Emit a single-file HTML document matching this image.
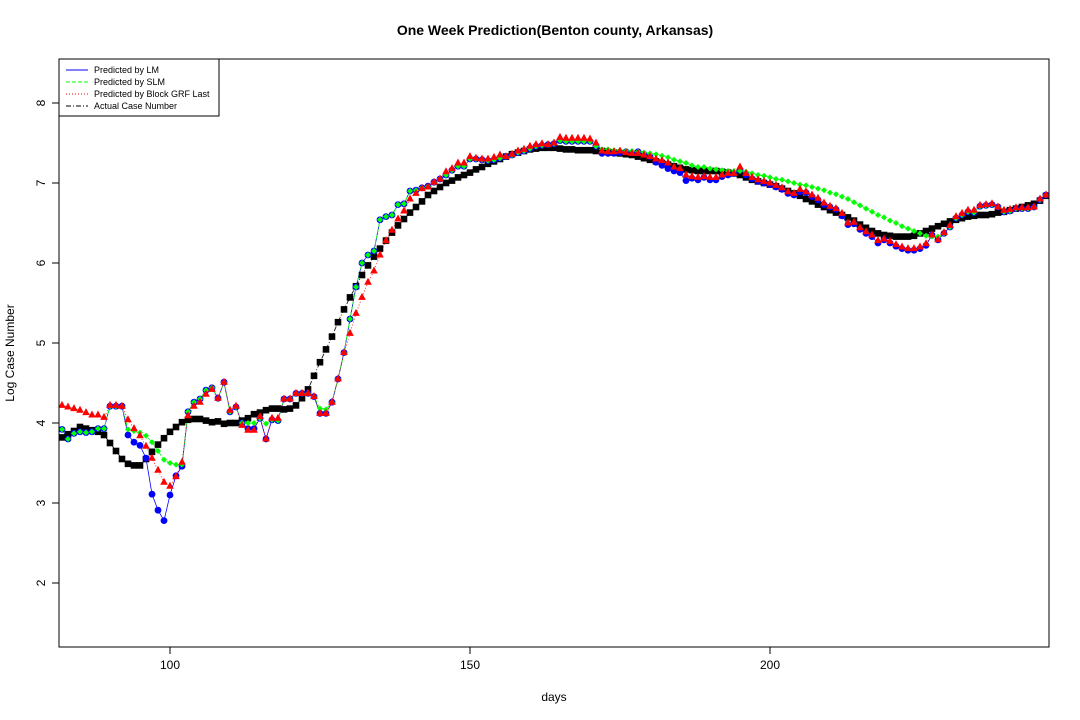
<!DOCTYPE html>
<html><head><meta charset="utf-8"><style>
body{margin:0;background:#fff;}
svg{display:block;font-family:"Liberation Sans",sans-serif;}
</style></head><body>
<svg id="chart" width="1080" height="720" xmlns="http://www.w3.org/2000/svg">
<text x="555" y="35" text-anchor="middle" font-size="14" font-weight="bold">One Week Prediction(Benton county, Arkansas)</text>
<text x="554" y="701" text-anchor="middle" font-size="12">days</text>
<text transform="translate(14,353) rotate(-90)" text-anchor="middle" font-size="12">Log Case Number</text>
<g id="marks"></g>
<rect x="59" y="59" width="990" height="588" fill="none" stroke="#000" stroke-width="1"/>
<g>
<rect x="59" y="59" width="160" height="57" fill="#fff" stroke="#000" stroke-width="1"/>
<g><line x1="66" y1="70" x2="88" y2="70" stroke="#00f"/><text x="94" y="73" font-size="9">Predicted by LM</text></g>
<g><line x1="66" y1="82" x2="88" y2="82" stroke="#0f0" stroke-dasharray="4,2"/><text x="94" y="85" font-size="9">Predicted by SLM</text></g>
<g><line x1="66" y1="94" x2="88" y2="94" stroke="#f00" stroke-dasharray="1,2"/><text x="94" y="97" font-size="9">Predicted by Block GRF Last</text></g>
<g><line x1="66" y1="106" x2="88" y2="106" stroke="#000" stroke-dasharray="5,2,1,2"/><text x="94" y="109" font-size="9">Actual Case Number</text></g>
</g>
</svg>
<script>
const startDay = 82;
const xTicks = [100,150,200];
const yTicks = [2,3,4,5,6,7,8];
const actual = [3.82,3.86,3.90,3.95,3.93,3.91,3.89,3.85,3.75,3.65,
3.55,3.49,3.47,3.47,3.55,3.64,3.73,3.81,3.89,3.95,
4.01,4.04,4.05,4.05,4.03,4.01,4.02,3.99,4.00,4.00,
4.03,4.06,4.11,4.13,4.16,4.18,4.18,4.17,4.18,4.22,
4.31,4.42,4.59,4.76,4.92,5.08,5.26,5.42,5.57,5.71,
5.85,5.97,6.08,6.18,6.28,6.38,6.47,6.55,6.63,6.70,
6.77,6.85,6.90,6.95,7.00,7.03,7.07,7.10,7.13,7.17,
7.20,7.24,7.27,7.30,7.33,7.36,7.38,7.40,7.42,7.43,
7.44,7.44,7.44,7.43,7.42,7.42,7.41,7.41,7.41,7.40,
7.40,7.39,7.38,7.37,7.36,7.35,7.33,7.31,7.29,7.27,
7.25,7.23,7.21,7.19,7.17,7.16,7.15,7.15,7.15,7.15,
7.14,7.13,7.12,7.10,7.07,7.04,7.02,7.00,6.98,6.96,
6.93,6.90,6.87,6.84,6.80,6.77,6.73,6.70,6.66,6.63,
6.60,6.57,6.53,6.48,6.44,6.40,6.37,6.35,6.34,6.33,
6.33,6.33,6.34,6.37,6.40,6.43,6.46,6.49,6.52,6.54,
6.56,6.58,6.59,6.60,6.60,6.61,6.63,6.64,6.66,6.68,
6.70,6.72,6.74,6.78,6.84];
const lm = [3.92,3.80,3.87,3.89,3.88,3.89,3.93,3.93,4.21,4.21,
4.21,3.85,3.76,3.72,3.56,3.11,2.91,2.78,3.10,3.34,
3.46,4.14,4.26,4.30,4.41,4.44,4.31,4.51,4.14,4.20,
4.00,3.93,3.93,4.06,3.80,4.04,4.03,4.30,4.30,4.37,
4.37,4.37,4.33,4.12,4.12,4.26,4.55,4.88,5.30,5.70,
6.00,6.10,6.15,6.54,6.58,6.60,6.73,6.74,6.90,6.91,
6.94,6.96,7.01,7.05,7.10,7.16,7.21,7.21,7.30,7.30,
7.29,7.28,7.29,7.31,7.33,7.35,7.38,7.40,7.43,7.46,
7.47,7.48,7.49,7.53,7.52,7.52,7.52,7.52,7.52,7.46,
7.37,7.37,7.37,7.38,7.39,7.38,7.39,7.36,7.33,7.26,
7.22,7.18,7.15,7.13,7.03,7.06,7.04,7.07,7.04,7.04,
7.08,7.10,7.12,7.16,7.10,7.05,7.02,7.00,6.98,6.95,
6.92,6.87,6.85,6.89,6.88,6.83,6.79,6.73,6.70,6.67,
6.59,6.48,6.49,6.42,6.37,6.33,6.25,6.29,6.25,6.21,
6.18,6.16,6.16,6.18,6.22,6.35,6.29,6.37,6.45,6.56,
6.60,6.64,6.63,6.71,6.72,6.73,6.70,6.64,6.65,6.68,
6.68,6.68,6.70,6.79,6.85];
const slm = [3.92,3.80,3.87,3.89,3.88,3.89,3.93,3.93,4.21,4.21,
4.21,3.92,3.90,3.88,3.84,3.76,3.65,3.54,3.50,3.48,
3.48,4.14,4.26,4.30,4.41,4.44,4.31,4.51,4.14,4.20,
4.00,4.00,4.00,4.06,3.99,4.04,4.03,4.30,4.30,4.37,
4.37,4.37,4.33,4.18,4.17,4.26,4.55,4.88,5.30,5.70,
6.00,6.10,6.15,6.54,6.58,6.60,6.73,6.74,6.90,6.91,
6.94,6.96,7.01,7.05,7.10,7.16,7.21,7.21,7.30,7.30,
7.29,7.28,7.29,7.31,7.33,7.35,7.38,7.40,7.43,7.46,
7.47,7.48,7.49,7.53,7.52,7.52,7.52,7.52,7.52,7.46,
7.42,7.42,7.41,7.41,7.40,7.40,7.39,7.38,7.37,7.36,
7.34,7.32,7.29,7.27,7.25,7.22,7.20,7.20,7.18,7.17,
7.16,7.15,7.15,7.15,7.14,7.12,7.10,7.09,7.07,7.05,
7.04,7.02,7.00,6.98,6.97,6.95,6.93,6.91,6.88,6.86,
6.83,6.80,6.76,6.72,6.68,6.64,6.60,6.57,6.53,6.50,
6.46,6.43,6.40,6.37,6.34,6.33,6.33,6.37,6.45,6.56,
6.60,6.64,6.63,6.71,6.72,6.73,6.70,6.64,6.65,6.68,
6.68,6.68,6.70,6.79,6.85];
const grf = [4.22,4.20,4.18,4.16,4.13,4.10,4.10,4.07,4.22,4.22,
4.21,4.04,3.93,3.84,3.71,3.56,3.41,3.26,3.21,3.33,
3.51,4.09,4.21,4.26,4.36,4.42,4.31,4.51,4.16,4.21,
3.97,3.91,3.91,4.08,3.80,4.06,4.06,4.30,4.30,4.37,
4.37,4.37,4.33,4.12,4.12,4.26,4.55,4.88,5.12,5.37,
5.57,5.76,5.90,6.10,6.28,6.41,6.55,6.65,6.80,6.87,
6.93,6.95,7.01,7.05,7.14,7.18,7.25,7.25,7.33,7.31,
7.30,7.30,7.32,7.35,7.33,7.36,7.40,7.42,7.46,7.48,
7.49,7.48,7.50,7.57,7.56,7.56,7.56,7.56,7.55,7.50,
7.40,7.39,7.39,7.40,7.38,7.37,7.37,7.35,7.33,7.30,
7.28,7.25,7.20,7.18,7.10,7.08,7.07,7.08,7.07,7.07,
7.10,7.12,7.12,7.20,7.12,7.07,7.04,7.02,7.00,6.97,
6.94,6.89,6.87,6.92,6.89,6.85,6.81,6.75,6.71,6.68,
6.62,6.50,6.51,6.44,6.39,6.35,6.28,6.30,6.27,6.23,
6.20,6.18,6.18,6.20,6.24,6.35,6.29,6.38,6.47,6.58,
6.62,6.66,6.66,6.72,6.73,6.74,6.70,6.66,6.67,6.69,
6.69,6.69,6.70,6.80,6.85];

const NS='http://www.w3.org/2000/svg';
const X = d => 170 + (d-100)*6;
const Y = v => 423 - (v-4)*80;
const svg = document.getElementById('chart');
const g = document.getElementById('marks');
function mk(tag, attrs, parent){const e=document.createElementNS(NS,tag);for(const k in attrs)e.setAttribute(k,attrs[k]);(parent||g).appendChild(e);return e;}

// axes
xTicks.forEach(t=>{
  const l=mk('line',{x1:X(t),x2:X(t),y1:647,y2:654,stroke:'#000'},svg);
  
  
  const tx=mk('text',{x:X(t),y:669,'text-anchor':'middle','font-size':12},svg);
  tx.textContent=t;
  
  
});
yTicks.forEach(t=>{
  const l=mk('line',{x1:52,x2:59,y1:Y(t),y2:Y(t),stroke:'#000'},svg);
  
  
  const tx=mk('text',{transform:`translate(45,${Y(t)}) rotate(-90)`,'text-anchor':'middle','font-size':12},svg);
  tx.textContent=t;
  
  
});

const clip=mk('clipPath',{id:'pc'},svg);
mk('rect',{x:59,y:59,width:990,height:588},clip);
g.setAttribute('clip-path','url(#pc)');

function pts(arr){return arr.map((v,i)=>X(startDay+i).toFixed(1)+','+Y(v).toFixed(1)).join(' ');}
function line(arr,color,dash,name){
  const p=mk('polyline',{points:pts(arr),fill:'none',stroke:color,'stroke-width':0.8,'stroke-dasharray':dash});
  
  
}
line(actual,'#000','5,2,1,2','actual-line');
line(lm,'#00f','none','lm-line');
line(slm,'#0f0','4,2','slm-line');
line(grf,'#f00','1,2','grf-line');

actual.forEach((v,i)=>{
  const r=mk('rect',{x:X(startDay+i)-3.3,y:Y(v)-3.3,width:6.6,height:6.6,fill:'#000'});
  
  
});
lm.forEach((v,i)=>{
  const c=mk('circle',{cx:X(startDay+i),cy:Y(v),r:3.4,fill:'#00f'});
  
  
});
slm.forEach((v,i)=>{
  const x=X(startDay+i),y=Y(v);
  const c=mk('polygon',{points:`${x},${y-3} ${x+3},${y} ${x},${y+3} ${x-3},${y}`,fill:'#0f0'});
  
  
});
grf.forEach((v,i)=>{
  const x=X(startDay+i),y=Y(v);
  const c=mk('polygon',{points:`${x},${y-4.5} ${x+3.8},${y+2.5} ${x-3.8},${y+2.5}`,fill:'#f00'});
  
  
});
</script>
</body></html>
